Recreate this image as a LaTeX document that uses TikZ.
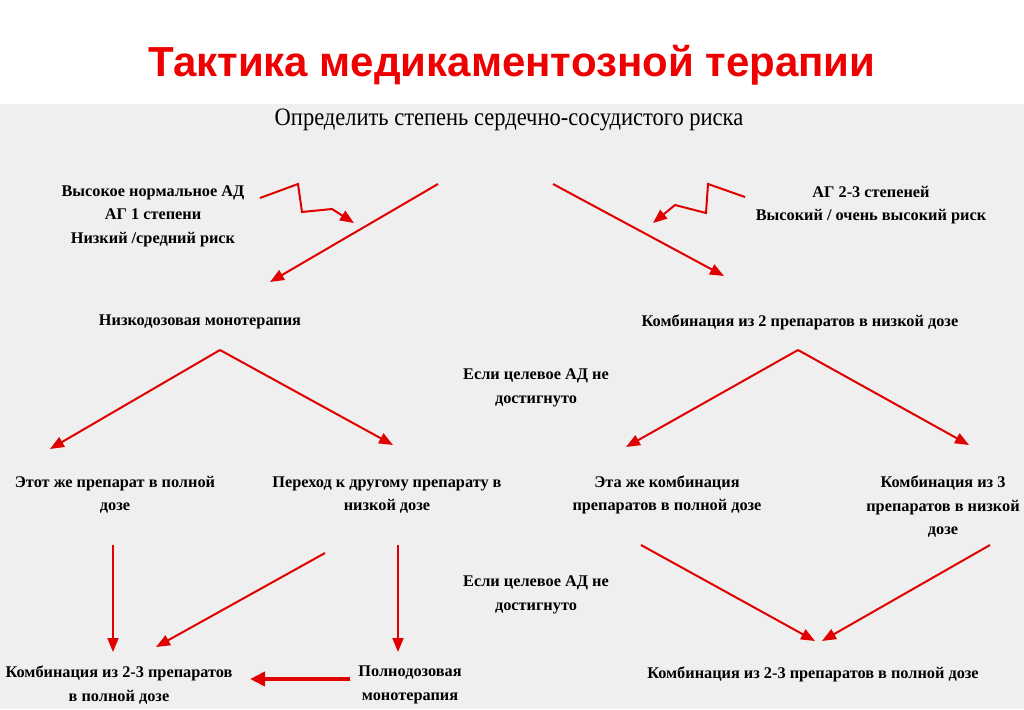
\documentclass[tikz,border=0pt]{standalone}
\usepackage{fontspec}
\setmainfont{Liberation Serif}
\newfontfamily\titlefont{Liberation Sans}
\usetikzlibrary{arrows.meta}
\definecolor{bggray}{RGB}{239,239,239}
\definecolor{arrred}{RGB}{224,0,0}
\definecolor{titlered}{RGB}{238,0,0}
\tikzset{
  lbl/.style={font=\fontsize{16.3}{23.5}\selectfont\bfseries, align=center, inner sep=0pt, text=black},
  arr/.style={draw=arrred, line width=2pt, line join=miter, -{Triangle[length=14pt,width=11pt]}},
  thickarr/.style={draw=arrred, line width=4pt, -{Triangle[length=15pt,width=14pt]}},
}
\begin{document}
\begin{tikzpicture}[x=1pt,y=-1pt]
\fill[white] (0,0) rectangle (1024,709);
\fill[bggray] (0,104) rectangle (1024,709);
\useasboundingbox (0,0) rectangle (1024,709);

\node[font=\titlefont\bfseries\fontsize{42}{50}\selectfont, text=titlered, inner sep=0pt, anchor=base] (title) at (512,77) {Тактика медикаментозной терапии};
\node[font=\fontsize{25}{28}\selectfont, inner sep=0pt, xscale=0.9] (sub) at (509,120) {Определить степень сердечно-сосудистого риска};

\node[lbl] (low) at (153,216) {Высокое нормальное АД\\АГ 1 степени\\Низкий /средний риск};
\node[lbl] (high) at (871,205) {АГ 2-3 степеней\\Высокий / очень высокий риск};
\node[lbl] (mono) at (200,322) {Низкодозовая монотерапия};
\node[lbl] (comb2) at (800,322) {Комбинация из 2 препаратов в низкой дозе};
\node[lbl] (if1) at (536,388) {Если целевое АД не\\достигнуто};
\node[lbl] (same) at (115,495) {Этот же препарат в полной\\дозе};
\node[lbl] (switch) at (387,495) {Переход к другому препарату в\\низкой дозе};
\node[lbl] (samecomb) at (667,495) {Эта же комбинация\\препаратов в полной дозе};
\node[lbl] (comb3) at (943,507) {Комбинация из 3\\препаратов в низкой\\дозе};
\node[lbl] (if2) at (536,595) {Если целевое АД не\\достигнуто};
\node[lbl] (full23) at (119,685) {Комбинация из 2-3 препаратов\\в полной дозе};
\node[lbl] (fullmono) at (410,685) {Полнодозовая\\монотерапия};
\node[lbl] (full23r) at (813,674) {Комбинация из 2-3 препаратов в полной дозе};

% arrow end points
\coordinate (a1s) at (438,184); \coordinate (a1e) at (270,282);
\coordinate (a2s) at (553,184); \coordinate (a2e) at (724,276);
\coordinate (z1s) at (260,198); \coordinate (z1e) at (354,223);
\coordinate (z2s) at (745,197); \coordinate (z2e) at (653,223);
\coordinate (m) at (220,350); \coordinate (mL) at (50,449); \coordinate (mR) at (393,445);
\coordinate (c) at (798,350); \coordinate (cL) at (626,447); \coordinate (cR) at (969,445);
\coordinate (d1s) at (113,545); \coordinate (d1e) at (113,652);
\coordinate (d2s) at (325,553); \coordinate (d2e) at (156,647);
\coordinate (d3s) at (398,545); \coordinate (d3e) at (398,652);
\coordinate (hs) at (350,679); \coordinate (he) at (250,679);
\coordinate (r1s) at (641,545); \coordinate (r1e) at (815,641);
\coordinate (r2s) at (990,545); \coordinate (r2e) at (822,641);

\draw[arr] (a1s) -- (a1e);
\draw[arr] (a2s) -- (a2e);
\draw[arr] (z1s) -- (298,184) -- (302,212) -- (332,209) -- (z1e);
\draw[arr] (z2s) -- (708,184) -- (706,213) -- (675,205) -- (z2e);
\draw[arr] (m) -- (mL);
\draw[arr] (m) -- (mR);
\draw[arr] (c) -- (cL);
\draw[arr] (c) -- (cR);
\draw[arr] (d1s) -- (d1e);
\draw[arr] (d2s) -- (d2e);
\draw[arr] (d3s) -- (d3e);
\draw[thickarr] (hs) -- (he);
\draw[arr] (r1s) -- (r1e);
\draw[arr] (r2s) -- (r2e);
\end{tikzpicture}
\end{document}
